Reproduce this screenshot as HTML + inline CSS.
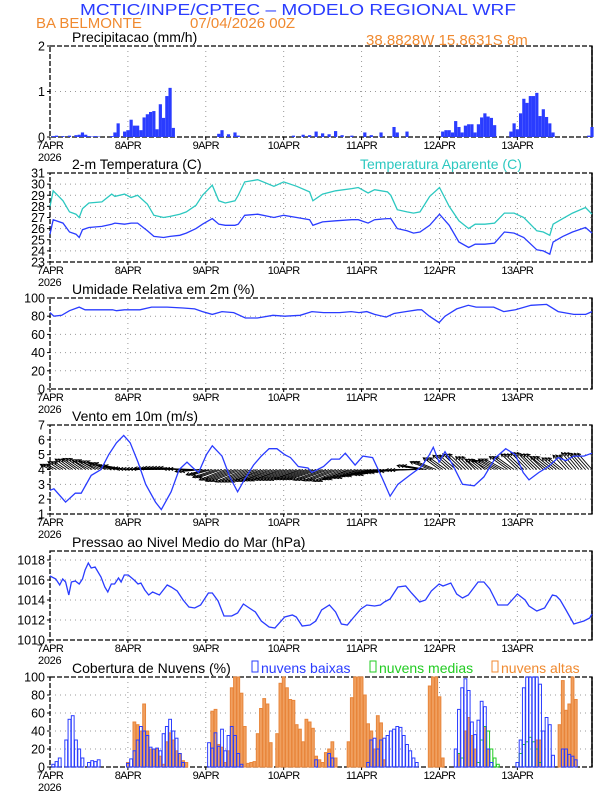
<!DOCTYPE html>
<html><head><meta charset="utf-8"><style>
body{margin:0;background:#fff;}
svg{display:block;font-family:"Liberation Sans",sans-serif;}
</style></head><body>
<svg id="chart" width="612" height="792" viewBox="0 0 612 792" xmlns="http://www.w3.org/2000/svg">
<text x="80" y="15" font-size="16" fill="#2a3cff" textLength="436" lengthAdjust="spacingAndGlyphs">MCTIC/INPE/CPTEC – MODELO REGIONAL WRF</text>
<text x="36" y="28" font-size="15" fill="#f08a30">BA BELMONTE</text>
<text x="190" y="28" font-size="15" fill="#f08a30">07/04/2026 00Z</text>
<text x="366" y="45" font-size="15" fill="#f08a30">38.8828W 15.8631S 8m</text>
<g id="plots"></g>
</svg>
<script>
// ---------- data ----------
const dayLabels = ["7APR","8APR","9APR","10APR","11APR","12APR","13APR"];
const precipHours = [1,2,4,6,8,9,10,11,12,13,14,15,19,20,21,23,24,25,26,27,28,29,30,31,32,33,34,35,36,37,38,52,53,55,57,58,75,78,80,82,84,86,88,90,93,97,99,102,106,107,110,121,122,123,124,125,126,127,128,129,130,131,132,133,134,135,136,137,142,143,144,145,146,147,148,149,150,151,152,153,154,155,166,167];
const precipValues = [0.02,0.03,0.02,0.03,0.04,0.05,0.1,0.05,0.02,0.01,0.02,0.01,0.02,0.1,0.3,0.12,0.15,0.38,0.25,0.25,0.15,0.43,0.5,0.55,0.57,0.17,0.72,0.42,0.9,1.08,0.2,0.07,0.15,0.06,0.1,0.03,0.03,0.05,0.04,0.12,0.08,0.06,0.13,0.04,0.03,0.1,0.04,0.1,0.22,0.1,0.12,0.12,0.15,0.15,0.1,0.35,0.22,0.1,0.25,0.28,0.28,0.1,0.28,0.43,0.52,0.45,0.42,0.26,0.12,0.3,0.17,0.52,0.84,0.75,0.9,0.9,0.97,0.46,0.61,0.44,0.3,0.1,0.03,0.22];

const tempHours = [0,1,4,6,8,9,10,12,16,19,20,23,25,27,30,32,35,37,40,42,45,47,50,52,54,57,58,60,64,69,72,76,80,81,84,88,93,95,98,100,104,105,107,110,112,114,117,120,123,126,129,131,134,137,140,143,146,150,152,154,155,158,161,165,167];
const tempValues = [25.5,26.8,26.5,25.7,25.5,25.2,25.9,26.1,26.2,26.4,26.5,26.4,26.5,26.5,25.8,25.3,25.2,25.3,25.4,25.6,26.0,26.4,26.9,26.4,26.3,26.3,26.4,27.2,27.3,27.0,27.2,27.0,26.8,26.3,26.6,26.7,26.8,26.8,26.5,26.8,26.9,26.9,26.0,25.8,25.6,25.7,26.3,27.3,26.3,24.8,24.3,24.6,24.6,24.7,25.7,25.6,25.2,24.1,24.0,23.7,24.8,25.3,25.7,26.1,25.6];
const apparentValues = [28.0,29.4,28.5,27.5,27.3,27.0,27.8,28.3,28.4,29.1,28.9,29.1,28.8,29.0,28.2,27.2,27.0,27.1,27.3,27.5,28.1,29.0,29.9,28.5,28.3,28.5,29.0,30.2,30.4,29.8,30.2,29.8,29.3,28.5,29.1,29.4,29.6,29.7,29.2,29.5,29.3,29.0,27.7,27.5,27.4,27.5,28.9,29.7,28.0,26.7,26.0,26.4,26.4,26.5,27.4,27.4,27.0,25.8,25.7,25.4,26.4,26.9,27.4,27.9,27.3];

const rhHours = [0,1.2,3.6,6,9,10.8,15.7,19.3,20.5,22.9,25.3,27.7,31.3,36.1,41,44.6,47,50,53,56.6,60.2,63.9,68.7,72.3,77.1,80.7,84.3,89.2,92.8,95.2,97.6,100,103.6,106,109.6,113.3,114.5,116.9,119.9,121.7,125.3,128.9,131.3,136.7,139.8,143.4,148.2,153,156.6,161.4,165.1,167];
const rhValues = [84,80,81,86,90,87,87,87,86,87,87,87,90,90,89,88,85,82,85,84,78,78,81,80,81,85,84,84,85,84,85,82,79,83,85,87,87,80,73,80,88,92,90,90,85,87,92,93,85,82,82,85];

const windHours = [0,1.2,4.8,7.8,9.6,12.7,15.7,18.1,20.5,22.7,24.7,27.1,29.5,32.5,34.3,37.3,39.8,42.2,44.6,45.8,48.2,50,53,55.4,57.8,59.6,62.7,65.1,67.5,69.9,72.3,74.1,76.5,79.5,80.7,84.3,86.7,89.2,91,94,96.4,99.4,102.4,104.8,107.2,110.8,114.5,116.9,118.1,119.9,121.7,124.1,127.1,130.7,133.7,137.3,140.4,143.4,145.8,147.6,150.6,153.6,156.6,159,161.4,164.5,167];
const windSpeed = [2.6,2.7,1.8,2.4,2.4,3.6,4.0,5.0,5.8,6.3,5.8,4.5,3.0,1.8,1.3,2.5,4.0,4.5,4.0,3.8,5.0,5.6,4.9,3.5,2.5,3.2,4.3,4.9,5.4,5.4,5.0,4.8,4.2,4.1,3.8,4.2,4.7,4.7,5.1,4.3,4.9,4.8,3.4,2.2,3.0,3.6,4.2,5.0,5.5,4.5,5.2,4.3,3.0,2.9,3.5,4.8,5.4,5.0,3.8,3.3,3.8,4.2,4.8,4.6,4.9,4.9,5.1];
// wind vector components (m/s), one per 3 hours starting at 0h
const windU = [-1.5,-1.8,-2.2,-2.5,-2.6,-2.8,-3,-3,-3,-3.2,-3.2,-3.5,-3.5,-3.5,-3.5,-3.2,-3,-3.5,-4,-4.5,-4.5,-4.5,-4.5,-4.5,-4.5,-4.5,-4.5,-4.5,-4.5,-4.5,-4.5,-4.5,-4.5,-4.5,-4.2,-4,-4,-3.8,-3.5,-3,-2.5,-2.5,-2.5,-2,-2,-2.5,-3,-2.8,-2.5,-2.5,-2.5,-2.5,-2.2,-2,-2.2,-2.2,-2.2];
const windV = [0.8,1.2,1.6,1.7,1.5,1.3,1.0,0.6,0.2,0.1,0.1,0.2,0.3,0.3,0.1,-0.3,-0.8,-1.2,-1.6,-1.8,-1.9,-1.9,-1.8,-1.7,-1.6,-1.6,-1.5,-1.5,-1.6,-1.7,-1.8,-1.5,-1.3,-1.0,-0.8,-0.5,-0.3,-0.1,0.6,1.2,1.8,2.2,2.4,2.0,1.6,1.4,1.6,2.0,2.4,2.6,2.4,2.0,1.8,2.2,2.6,2.5,2.3];

const pressHours = [0,1.8,3,3.9,4.8,5.8,6.6,7.8,9,10,10.8,11.8,12.7,13.9,15.7,16.9,17.8,18.9,19.9,21.1,21.9,22.9,24.1,25.9,27.1,28,29.2,30.4,31.6,33.7,36.1,37.3,39.2,41,42.8,44.6,46.4,48.8,50,51.8,53.6,56,57.8,59.6,61.4,63.3,65.1,67.5,69.3,72.3,74.7,75.9,77.7,80.1,81.9,83.7,86.1,88,89.8,91.6,93.4,95.8,97.6,100,101.8,103,104.8,107.2,109.6,111.4,113.9,115.7,117.5,119.9,121.1,123.5,125.3,127.1,128.9,131.9,133.7,135.5,138,141,144,146.4,147.6,150,152.4,154.8,156,157.2,159,161.4,164.5,166.3,167];
const pressValues = [1016.4,1016.1,1015.5,1016.1,1015.8,1014.5,1015.8,1015.9,1015.6,1016.1,1017.0,1017.7,1017.2,1017.3,1016.3,1015.3,1014.8,1015.6,1015.6,1016.2,1015.8,1016.5,1016.5,1016.0,1015.6,1015.7,1015.0,1014.5,1014.8,1014.5,1015.5,1015.3,1014.9,1014.0,1013.3,1013.2,1013.5,1014.7,1014.7,1013.9,1012.4,1012.4,1012.7,1013.6,1013.2,1012.8,1011.9,1011.3,1011.2,1012.3,1012.5,1012.3,1011.4,1011.5,1011.9,1013.0,1013.5,1012.8,1011.6,1011.5,1012.2,1013.1,1013.5,1013.4,1013.5,1013.8,1014.1,1015.3,1015.4,1014.7,1013.8,1014.0,1014.9,1015.6,1015.4,1015.7,1014.6,1014.2,1014.5,1015.8,1015.8,1015.1,1013.5,1013.5,1014.6,1014.0,1013.4,1012.9,1013.2,1014.5,1014.4,1014.0,1013.0,1011.6,1011.9,1012.2,1012.6];

const lowHours = [1,2,3,5,6,7,8,9,10,12,13,14,15,24,25,26,27,28,29,30,31,32,33,34,35,36,37,38,39,40,41,49,50,51,52,53,54,55,56,57,58,59,82,86,87,98,99,100,101,102,103,104,105,106,107,108,109,110,111,112,113,125,126,127,128,129,130,131,132,133,134,135,136,144,145,146,147,148,149,150,151,152,153,154,155,158,159,160,161,162];
const lowValues = [3,6,10,30,53,57,30,20,10,5,7,6,8,4,9,18,30,45,40,35,22,20,21,18,37,45,53,40,32,15,5,27,21,38,23,42,18,35,45,35,15,3,8,15,10,5,30,32,20,30,32,35,40,42,45,44,35,25,18,10,5,20,64,88,98,85,50,36,52,73,67,20,5,5,30,88,100,100,100,100,92,40,55,47,13,20,20,14,12,8];
const midHours = [126,127,132,133,134,135,136,137,138,145,146,147,148,149,150,151];
const midValues = [15,10,5,30,45,40,20,10,3,15,25,28,33,28,20,5];
const highHours = [24,26,27,28,29,30,31,32,33,34,35,36,37,38,39,40,41,42,50,51,52,53,54,55,56,57,58,59,60,61,62,63,64,65,66,67,68,70,71,72,73,74,75,76,77,78,79,80,81,82,83,84,85,86,87,88,92,93,94,95,96,97,98,99,100,101,102,103,117,118,119,120,121,126,128,129,130,131,134,135,150,151,157,158,159,160,161,162];
const highValues = [5,50,47,40,70,40,20,20,20,12,3,28,38,30,18,15,7,5,62,64,25,22,5,18,88,100,100,82,45,4,5,6,37,65,76,70,27,37,93,100,88,75,74,47,42,28,53,50,43,12,8,5,16,20,28,10,28,77,100,100,100,80,48,40,20,57,49,8,90,100,100,78,10,15,40,55,35,20,45,20,30,30,47,96,63,70,100,75];

// ---------- drawing ----------
const NS = "http://www.w3.org/2000/svg";
const root = document.getElementById("plots");
const X0 = 50, X1 = 592, HMAX = 167;
function xs(h){ return X0 + h*(X1-X0)/HMAX; }
function mk(tag, attrs, parent){ const e=document.createElementNS(NS,tag); for(const k in attrs) e.setAttribute(k,attrs[k]); (parent||root).appendChild(e); return e; }
function txt(x,y,s,attrs,parent){ const t=mk("text",Object.assign({x:x,y:y},attrs),parent); t.textContent=s; return t; }

function panel(name, top, bottom, vmin, vmax, ticks, title){
  const g = mk("g",{});
  
  
  const ys = v => bottom - (v-vmin)*(bottom-top)/(vmax-vmin);
  for(let d=1; d<7; d++){
    const x = xs(d*24);
    const gl = mk("line",{x1:x,x2:x,y1:top,y2:bottom,stroke:"#999","stroke-width":1,"stroke-dasharray":"1,4"},g);
    
    
  }
  ticks.forEach(t=>{
    const y = ys(t);
    if(t!==vmin && y>top+1){
      const hl = mk("line",{x1:X0,x2:X1,y1:y,y2:y,stroke:"#999","stroke-width":1,"stroke-dasharray":"1,4"},g);
      
      
    }
    mk("line",{x1:X0-3,x2:X0,y1:y,y2:y,stroke:"#000"},g);
    const tl = txt(X0-5, y+4.5, String(t), {"font-size":12.5,"text-anchor":"end",fill:"#000"}, g);
    
    
  });
  const fr = mk("rect",{x:X0,y:top,width:X1-X0,height:bottom-top,fill:"none",stroke:"#000","stroke-width":1.3,"stroke-dasharray":"5,2"},g);
  
  
  mk("line",{x1:X1,x2:X1,y1:top,y2:bottom,stroke:"#000","stroke-width":1.5},g);
  dayLabels.forEach((s,i)=>{
    const x = xs(i*24);
    mk("line",{x1:x,x2:x,y1:bottom,y2:bottom+3,stroke:"#000"},g);
    const l = txt(x, bottom+12, s, {"font-size":11,"text-anchor":"middle",fill:"#000","letter-spacing":"-0.6"}, g);
    
    
  });
  const yr = txt(38, bottom+24, "2026", {"font-size":11,fill:"#000","letter-spacing":"-0.3"}, g);
  
  
  const tt = txt(72, top-4, title, {"font-size":14,fill:"#000"}, g);
  
  
  return {g, ys, top, bottom};
}
function line(p, hours, vals, color, name){
  let d=""; hours.forEach((h,i)=>{ d += (i?"L":"M")+xs(h).toFixed(1)+","+p.ys(vals[i]).toFixed(1); });
  const e = mk("path",{d:d,fill:"none",stroke:color,"stroke-width":1.3},p.g);
  
  
}

// Precip
const p1 = panel("precipitation", 46, 137, 0, 2, [0,1,2], "Precipitacao (mm/h)");
precipHours.forEach((h,i)=>{
  const y = p1.ys(precipValues[i]);
  const b = mk("rect",{x:xs(h)-1.6,y:y,width:3.2,height:p1.bottom-y,fill:"#2a3cff"},p1.g);
  
  
});

// Temperature
const p2 = panel("temperature", 173, 262, 23, 31, [23,24,25,26,27,28,29,30,31], "2-m Temperatura (C)");
const at = txt(360, 169, "Temperatura Aparente (C)", {"font-size":14,fill:"#2cc8c0"}, p2.g);


line(p2, tempHours, apparentValues, "#2cc8c0", "apparent-temperature-line");
line(p2, tempHours, tempValues, "#2a3cff", "temperature-line");

// RH
const p3 = panel("humidity", 298, 389, 0, 100, [0,20,40,60,80,100], "Umidade Relativa em 2m (%)");
line(p3, rhHours, rhValues, "#2a3cff", "humidity-line");

// Wind
const p4 = panel("wind", 425, 514, 1, 7, [1,2,3,4,5,6,7], "Vento em 10m (m/s)");
const k = 6.5;
for(let h=0; h<=HMAX; h++){
  const i = Math.min(Math.floor(h/3), windU.length-1);
  const x0 = xs(h), y0 = p4.ys(4);
  const x1 = x0 + windU[i]*k, y1 = y0 - windV[i]*k;
  const ang = Math.atan2(y1-y0, x1-x0);
  const a = mk("path",{d:`M${x0.toFixed(1)},${y0.toFixed(1)}L${x1.toFixed(1)},${y1.toFixed(1)}M${(x1-3.5*Math.cos(ang-0.5)).toFixed(1)},${(y1-3.5*Math.sin(ang-0.5)).toFixed(1)}L${x1.toFixed(1)},${y1.toFixed(1)}L${(x1-3.5*Math.cos(ang+0.5)).toFixed(1)},${(y1-3.5*Math.sin(ang+0.5)).toFixed(1)}`,stroke:"#000","stroke-width":0.9,fill:"none"},p4.g);
  
  
}
line(p4, windHours, windSpeed, "#2a3cff", "wind-speed-line");

// Pressure
const p5 = panel("pressure", 551, 640, 1010, 1018.9, [1010,1012,1014,1016,1018], "Pressao ao Nivel Medio do Mar (hPa)");
line(p5, pressHours, pressValues, "#2a3cff", "pressure-line");

// Clouds
const p6 = panel("clouds", 677, 767, 0, 100, [0,20,40,60,80,100], "Cobertura de Nuvens (%)");
function bars(hours, vals, fill, stroke, name){
  hours.forEach((h,i)=>{
    const y = p6.ys(vals[i]);
    const b = mk("rect",{x:xs(h)-1.4,y:y,width:2.8,height:p6.bottom-y,fill:fill,stroke:stroke,"stroke-width":1},p6.g);
    
    
  });
}
bars(highHours, highValues, "#f0a060", "#e8853a", "high-cloud-bar");
bars(midHours, midValues, "none", "#22cc22", "mid-cloud-bar");
bars(lowHours, lowValues, "none", "#2a3cff", "low-cloud-bar");
const legend = [["nuvens baixas","#2a3cff",252],["nuvens medias","#22cc22",370],["nuvens altas","#f08a30",492]];
legend.forEach(([s,c,x])=>{
  const lg = mk("g",{},p6.g);
  
  
  mk("rect",{x:x,y:661,width:6,height:11,fill:"none",stroke:c,"stroke-width":1},lg);
  txt(x+9, 673, s, {"font-size":14,fill:c}, lg);
});
</script>
</body></html>
